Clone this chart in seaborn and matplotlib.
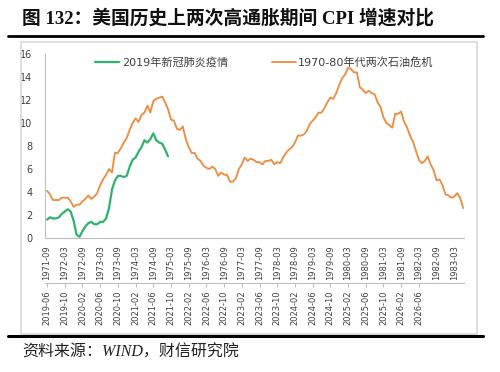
import numpy as np
import pandas as pd
import matplotlib
matplotlib.use("Agg")
import matplotlib.pyplot as plt
from matplotlib.lines import Line2D
from matplotlib.patches import Rectangle
import seaborn as sns

# ---- data ----
oil_values = [
    4.1, 3.8, 3.3, 3.3,
    3.3, 3.5, 3.5, 3.5, 3.2, 2.7, 2.9, 2.9, 3.2, 3.4, 3.7, 3.4,
    3.6, 3.9, 4.6, 5.1, 5.5, 6.0, 5.7, 7.4, 7.4, 7.8, 8.3, 8.7,
    9.4, 10.0, 10.4, 10.1, 10.7, 10.9, 11.5, 10.9, 11.9, 12.1, 12.2, 12.3,
    11.8, 11.2, 10.3, 10.2, 9.5, 9.4, 9.7, 8.6, 7.9, 7.4, 7.4, 6.9,
    6.7, 6.3, 6.1, 6.0, 6.2, 6.0, 5.4, 5.7, 5.5, 5.5, 4.9, 4.9,
    5.2, 6.0, 6.4, 7.0, 6.7, 6.9, 6.8, 6.6, 6.6, 6.4, 6.7, 6.7,
    6.8, 6.4, 6.6, 6.5, 7.0, 7.4, 7.7, 7.9, 8.3, 8.9, 8.9, 9.0,
    9.3, 9.9, 10.2, 10.5, 10.9, 10.9, 11.3, 11.8, 12.2, 12.1, 12.6, 13.3,
    13.9, 14.2, 14.8, 14.7, 14.4, 14.4, 13.1, 12.9, 12.6, 12.8, 12.6, 12.5,
    11.8, 11.4, 10.5, 10.0, 9.8, 9.6, 10.8, 10.8, 11.0, 10.1, 9.6, 8.9,
    8.4, 7.6, 6.8, 6.5, 6.7, 7.1, 6.4, 5.9, 5.0, 5.1, 4.6, 3.8,
    3.7, 3.5, 3.6, 3.9, 3.5, 2.6,
]
covid_values = [
    1.6, 1.8, 1.7, 1.7, 1.8, 2.1, 2.3,
    2.5, 2.3, 1.5, 0.3, 0.1, 0.6, 1.0, 1.3, 1.4, 1.2, 1.2, 1.4,
    1.4, 1.7, 2.6, 4.2, 5.0, 5.4, 5.4, 5.3, 5.4, 6.2, 6.8, 7.0,
    7.5, 7.9, 8.5, 8.3, 8.6, 9.1, 8.5, 8.3, 8.2, 7.7, 7.1,
]
top_labels = ["1971-09", "1972-03", "1972-09", "1973-03", "1973-09", "1974-03",
              "1974-09", "1975-03", "1975-09", "1976-03", "1976-09", "1977-03",
              "1977-09", "1978-03", "1978-09", "1979-03", "1979-09", "1980-03",
              "1980-09", "1981-03", "1981-09", "1982-03", "1982-09", "1983-03"]
bottom_labels = ["2019-06", "2019-10", "2020-02", "2020-06", "2020-10", "2021-02",
                 "2021-06", "2021-10", "2022-02", "2022-06", "2022-10", "2023-02",
                 "2023-06", "2023-10", "2024-02", "2024-06", "2024-10", "2025-02",
                 "2025-06", "2025-10", "2026-02", "2026-06"]
series_names = ["2019年新冠肺炎疫情", "1970-80年代两次石油危机"]

df_oil = pd.DataFrame({"m": np.arange(len(oil_values)), "v": oil_values})
df_cov = pd.DataFrame({"m": np.arange(len(covid_values)), "v": covid_values})

sns.set_theme(style="white")
plt.rcParams["font.family"] = ["DejaVu Sans", "Noto Sans CJK SC"]

GREEN = "#2DB36B"
ORANGE = "#F08A3C"
GRAY = "#BFBFBF"

fig = plt.figure(figsize=(5.0, 3.72), dpi=100)
W, H = 500, 372

def fx(px):
    return px / W

def fy(py):
    return 1 - py / H

# frame / decorations
fig.add_artist(Rectangle((fx(21), fy(334)), fx(477) - fx(21), fy(42) - fy(334),
                         transform=fig.transFigure, fill=False, edgecolor="#D9D9D9", lw=1.2))
fig.add_artist(Line2D([fx(8), fx(483)], [fy(36), fy(36)], transform=fig.transFigure,
                      color="black", lw=2.0))
fig.add_artist(Line2D([fx(8), fx(483)], [fy(335.5), fy(335.5)], transform=fig.transFigure,
                      color="black", lw=2.2))
fig.text(fx(22), fy(18), "图 132：美国历史上两次高通胀期间 CPI 增速对比",
         family=["Liberation Serif", "Noto Sans CJK SC"], fontsize=13.5, fontweight="bold",
         va="center", ha="left", color="#111111")
fig.text(fx(22), fy(353), "资料来源：WIND，财信研究院",
         family=["Liberation Serif", "Noto Sans CJK SC"], fontsize=11.5, style="italic",
         va="center", ha="left", color="#222222")

ax = fig.add_axes([fx(45), fy(238), fx(464) - fx(45), fy(54) - fy(238)])
sns.lineplot(data=df_cov, x="m", y="v", ax=ax, color=GREEN, lw=1.6)
sns.lineplot(data=df_oil, x="m", y="v", ax=ax, color=ORANGE, lw=1.3)

ax.set_xlim(-0.7, 141.3)
ax.set_ylim(0, 16)
ax.set_yticks(np.arange(0, 17, 2))
ax.set_yticklabels([str(v) for v in range(0, 17, 2)], fontsize=7, color="#404040")
ax.set_xticks(np.arange(0, 6 * len(top_labels), 6))
ax.set_xticklabels(top_labels, rotation=90, fontsize=6, color="#404040")
ax.set_xlabel("")
ax.set_ylabel("")
for s in ["top", "right"]:
    ax.spines[s].set_visible(False)
for s in ["left", "bottom"]:
    ax.spines[s].set_color(GRAY)
    ax.spines[s].set_linewidth(0.8)
ax.tick_params(axis="both", direction="out", length=3, width=0.8, color=GRAY, pad=2)
ax.tick_params(axis="y", pad=6)
ax.grid(False)
ax.patch.set_alpha(0)

sec = ax.secondary_xaxis(-0.245)
sec.set_xticks(np.arange(0, 6 * len(bottom_labels), 6))
sec.set_xticklabels(bottom_labels, rotation=90, fontsize=6, color="#404040")
sec.spines["bottom"].set_color(GRAY)
sec.spines["bottom"].set_linewidth(0.8)
sec.tick_params(direction="out", length=3, width=0.8, color=GRAY, pad=2)

# legend
leg_font = {"family": ["DejaVu Sans", "Noto Sans CJK SC"], "fontsize": 8, "color": "#404040"}
fig.add_artist(Line2D([fx(95), fx(119)], [fy(62), fy(62)], transform=fig.transFigure,
                      color=GREEN, lw=1.6))
fig.text(fx(122), fy(62), series_names[0], va="center", ha="left", **leg_font)
fig.add_artist(Line2D([fx(272), fx(296)], [fy(62), fy(62)], transform=fig.transFigure,
                      color=ORANGE, lw=1.3))
fig.text(fx(298), fy(62), series_names[1], va="center", ha="left", **leg_font)

fig.savefig("out.png", dpi=100)
